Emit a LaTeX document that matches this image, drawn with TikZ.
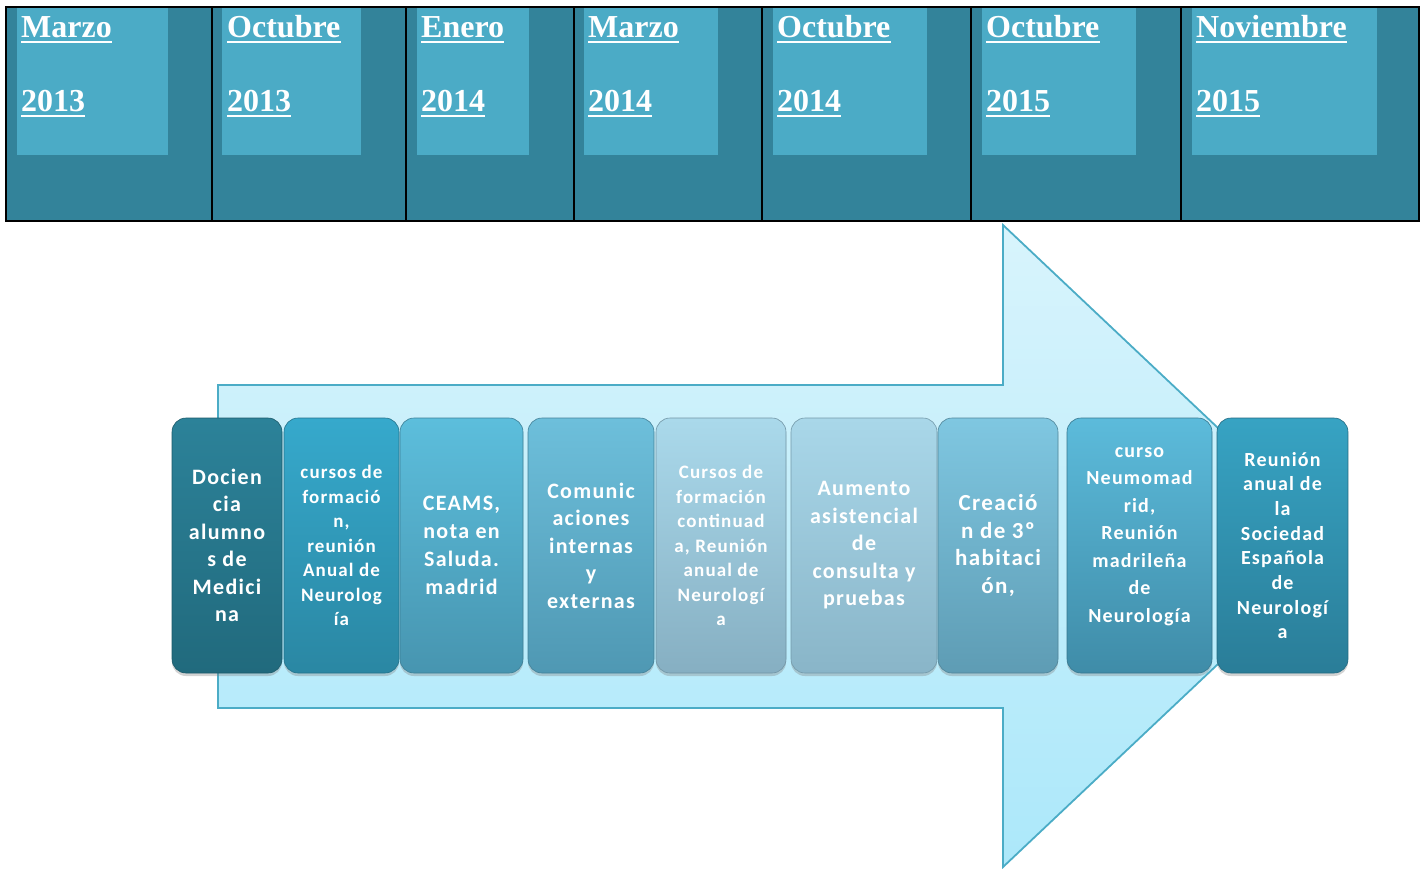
\documentclass[tikz,border=0pt]{standalone}
\usepackage{fontspec}
\setmainfont{Liberation Serif}
\newfontfamily\boxfont[LetterSpace=6]{Carlito}
\usetikzlibrary{shadows}
\definecolor{tabdark}{HTML}{33839A}
\definecolor{tablight}{HTML}{4BABC6}
\definecolor{arrtop}{HTML}{D8F4FC}
\definecolor{arrbot}{HTML}{ACE8FA}
\definecolor{arrline}{HTML}{4BACC6}
\definecolor{c1t}{HTML}{2C8299}\definecolor{c1b}{HTML}{216A7D}
\definecolor{c2t}{HTML}{36A9CC}\definecolor{c2b}{HTML}{2A87A3}
\definecolor{c3t}{HTML}{5CBEDC}\definecolor{c3b}{HTML}{4795B0}
\definecolor{c4t}{HTML}{6DBFDB}\definecolor{c4b}{HTML}{4F98B3}
\definecolor{c5t}{HTML}{AAD9EB}\definecolor{c5b}{HTML}{86AFC2}
\definecolor{c6t}{HTML}{A9D7E9}\definecolor{c6b}{HTML}{89B5C8}
\definecolor{c7t}{HTML}{7FC7E1}\definecolor{c7b}{HTML}{5E9CB4}
\definecolor{c8t}{HTML}{5CBBDB}\definecolor{c8b}{HTML}{3F8CA8}
\definecolor{c9t}{HTML}{37A3C3}\definecolor{c9b}{HTML}{2A7D98}
\tikzset{
  datetxt/.style={text=white, font=\bfseries\fontsize{32}{32}\selectfont, inner sep=0pt, anchor=base west},
  uline/.style={white, line width=2.7pt},
  tabline/.style={black, line width=2pt},
  tlbox/.style n args={3}{rounded corners=14pt, minimum width=#1, minimum height=255pt,
    top color=#2, bottom color=#3, draw=#3!85!black, line width=0.6pt, inner sep=0pt,
    drop shadow={opacity=0.35, shadow xshift=0pt, shadow yshift=-3pt}},
  boxtxt/.style n args={2}{text=white, align=center, inner sep=0pt,
    font=\boxfont\bfseries\fontsize{#1}{#2}\selectfont},
}
\begin{document}
\begin{tikzpicture}[x=1pt,y=-1pt]
\useasboundingbox (0,0) rectangle (1423,868);
% ---------- table ----------
\fill[tabdark] (6,7) rectangle (1419,221);
\fill[tablight] (17,7) rectangle (168,155);
\fill[tablight] (222,7) rectangle (361,155);
\fill[tablight] (417,7) rectangle (529,155);
\fill[tablight] (584,7) rectangle (718,155);
\fill[tablight] (773,7) rectangle (927,155);
\fill[tablight] (982,7) rectangle (1136,155);
\fill[tablight] (1192,7) rectangle (1377,155);
\foreach \x in {212,406,574,762,971,1181} \draw[tabline] (\x,7) -- (\x,221);
\draw[tabline] (6,7) rectangle (1419,221);
\foreach \n/\x/\m/\yr in {1/21/Marzo/2013, 2/227/Octubre/2013, 3/421/Enero/2014, 4/588/Marzo/2014,
  5/777/Octubre/2014, 6/986/Octubre/2015, 7/1196/Noviembre/2015}{
  \node[datetxt] (m\n) at (\x,37) {\m};
  \node[datetxt] (y\n) at (\x,111.5) {\yr};
  \draw[uline] ([yshift=-5pt]m\n.base west) -- ([yshift=-5pt]m\n.base east);
  \draw[uline] ([yshift=-4.5pt]y\n.base west) -- ([yshift=-4.5pt]y\n.base east);
}
% ---------- arrow ----------
\path[top color=arrtop, bottom color=arrbot] (218,385) -- (1003,385) -- (1003,225) -- (1343,546)
  -- (1003,867) -- (1003,708) -- (218,708) -- cycle;
\draw[arrline, line width=1.8pt, line join=miter] (218,385) -- (1003,385) -- (1003,225) -- (1343,546)
  -- (1003,867) -- (1003,708) -- (218,708) -- cycle;
% ---------- boxes ----------
\node[tlbox={110pt}{c1t}{c1b}] (b1) at (227,545.5) {};
\node[tlbox={115pt}{c2t}{c2b}] (b2) at (341.5,545.5) {};
\node[tlbox={123pt}{c3t}{c3b}] (b3) at (461.5,545.5) {};
\node[tlbox={126pt}{c4t}{c4b}] (b4) at (591,545.5) {};
\node[tlbox={130pt}{c5t}{c5b}] (b5) at (721,545.5) {};
\node[tlbox={146pt}{c6t}{c6b}] (b6) at (864,545.5) {};
\node[tlbox={120pt}{c7t}{c7b}] (b7) at (998,545.5) {};
\node[tlbox={145pt}{c8t}{c8b}] (b8) at (1139.5,545.5) {};
\node[tlbox={131pt}{c9t}{c9b}] (b9) at (1282.5,545.5) {};
% ---------- texts ----------
\node[boxtxt={22}{27.5}] (t1) at (b1.center) {Docien\\cia\\alumno\\s de\\Medici\\na};
\node[boxtxt={19}{24.5}] (t2) at (b2.center) {cursos de\\formació\\n,\\reunión\\Anual de\\Neurolog\\ía};
\node[boxtxt={22}{28}] (t3) at (b3.center) {CEAMS,\\nota en\\Saluda.\\madrid};
\node[boxtxt={22}{27.5}] (t4) at (b4.center) {Comunic\\aciones\\internas\\y\\externas};
\node[boxtxt={19}{24.5}] (t5) at (b5.center) {Cursos de\\formación\\continuad\\a, Reunión\\anual de\\Neurologí\\a};
\node[boxtxt={22}{27.5}] (t6) at (b6.center) {Aumento\\asistencial\\de\\consulta y\\pruebas};
\node[boxtxt={23}{27.5}] (t7) at (b7.center) {Creació\\n de 3º\\habitaci\\ón,};
\node[boxtxt={20}{27.5}] (t8) at ([yshift=9pt]b8.center) {curso\\Neumomad\\rid,\\Reunión\\madrileña\\de\\Neurología};
\node[boxtxt={20}{24.7}] (t9) at (b9.center) {Reunión\\anual de\\la\\Sociedad\\Española\\de\\Neurologí\\a};
\end{tikzpicture}
\end{document}
